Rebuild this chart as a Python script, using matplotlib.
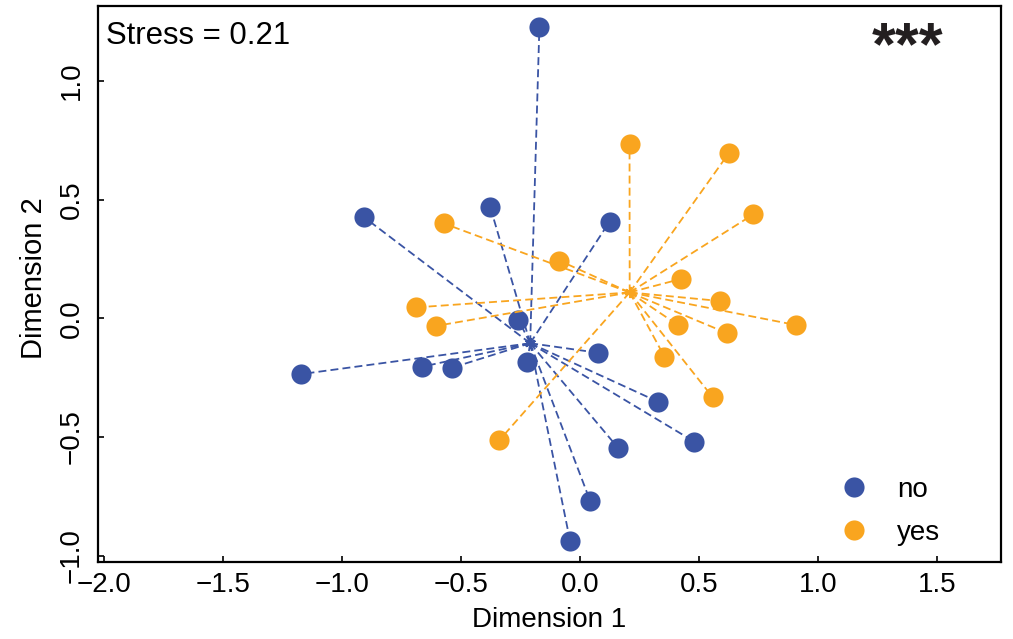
import numpy as np
import matplotlib.pyplot as plt
from matplotlib.lines import Line2D

plt.rcParams['font.family'] = ['Liberation Sans', 'DejaVu Sans']

# NMDS site scores
no_x = [-0.171, -0.907, -0.378, 0.124, -0.259, -0.222, -0.664, -0.538,
        -1.173, 0.074, 0.327, 0.159, 0.042, -0.042, 0.481]
no_y = [1.228, 0.425, 0.470, 0.407, -0.007, -0.183, -0.204, -0.208,
        -0.235, -0.145, -0.351, -0.545, -0.768, -0.938, -0.520]

yes_x = [0.208, 0.625, 0.729, -0.574, -0.087, 0.425, 0.587, -0.689,
         -0.605, 0.411, 0.906, 0.619, 0.355, 0.558, -0.339]
yes_y = [0.733, 0.695, 0.438, 0.400, 0.243, 0.166, 0.073, 0.046,
         -0.032, -0.028, -0.028, -0.063, -0.162, -0.333, -0.513]

groups = ["no", "yes"]
colors = ["#3A54A4", "#F9A51F"]
stress = 0.21
signif = "***"
xticks = [-2.0, -1.5, -1.0, -0.5, 0.0, 0.5, 1.0, 1.5]
yticks = [-1.0, -0.5, 0.0, 0.5, 1.0]

fig = plt.figure(figsize=(10.13, 6.39), dpi=100)
ax = fig.add_axes([0.0967, 0.1205, 0.8915, 0.8701])

data = {"no": (no_x, no_y), "yes": (yes_x, yes_y)}
for g, col in zip(groups, colors):
    x = np.array(data[g][0])
    y = np.array(data[g][1])
    cx, cy = x.mean(), y.mean()
    ax.plot(x, y, 'o', color=col, markersize=14.5, markeredgewidth=0, zorder=2)
    # spider lines from group centroid
    for xi, yi in zip(x, y):
        ax.plot([cx, xi], [cy, yi], color=col, lw=1.3, dashes=(4.4, 2.3),
                zorder=3)
    ax.plot(cx, cy, marker=(6, 2, 0), color=col, markersize=8, mew=1.6,
            zorder=3)

ax.set_xlim(-2.027, 1.770)
ax.set_ylim(-1.0265, 1.3155)
ax.set_xticks(xticks)
ax.set_yticks(yticks)
ax.set_xticklabels([f"{t:.1f}".replace("-", "\u2212") for t in xticks])
ax.set_yticklabels([f"{t:.1f}".replace("-", "\u2212") for t in yticks],
                   rotation=90, va='center')
ax.tick_params(direction='in', length=4, width=1.2, labelsize=20)
ax.tick_params(axis='x', pad=7.2)
ax.tick_params(axis='y', pad=9.4)
for s in ax.spines.values():
    s.set_linewidth(1.6)

ax.set_xlabel("Dimension 1", fontsize=20)
ax.set_ylabel("Dimension 2", fontsize=21)
ax.xaxis.set_label_coords(0.5, -0.081)
ax.yaxis.set_label_coords(-0.055, 0.51)

ax.text(0.0089, 0.9317, f"Stress = {stress}", transform=ax.transAxes,
        fontsize=22.4, va='baseline', ha='left')
ax.text(0.897, 0.8948, signif, transform=ax.transAxes, fontsize=44,
        fontweight='bold', va='baseline', ha='center', color='#231F20')

handles = [Line2D([], [], marker='o', ls='', color=c, markersize=14.5,
                  markeredgewidth=0) for c in colors]
ax.legend(handles, groups, loc='lower right', bbox_to_anchor=(0.933, 0.0286),
          frameon=False, fontsize=20, handlelength=1.0, handletextpad=1.05,
          labelspacing=0.63, borderpad=0, borderaxespad=0)

fig.savefig("out.png", dpi=100)
